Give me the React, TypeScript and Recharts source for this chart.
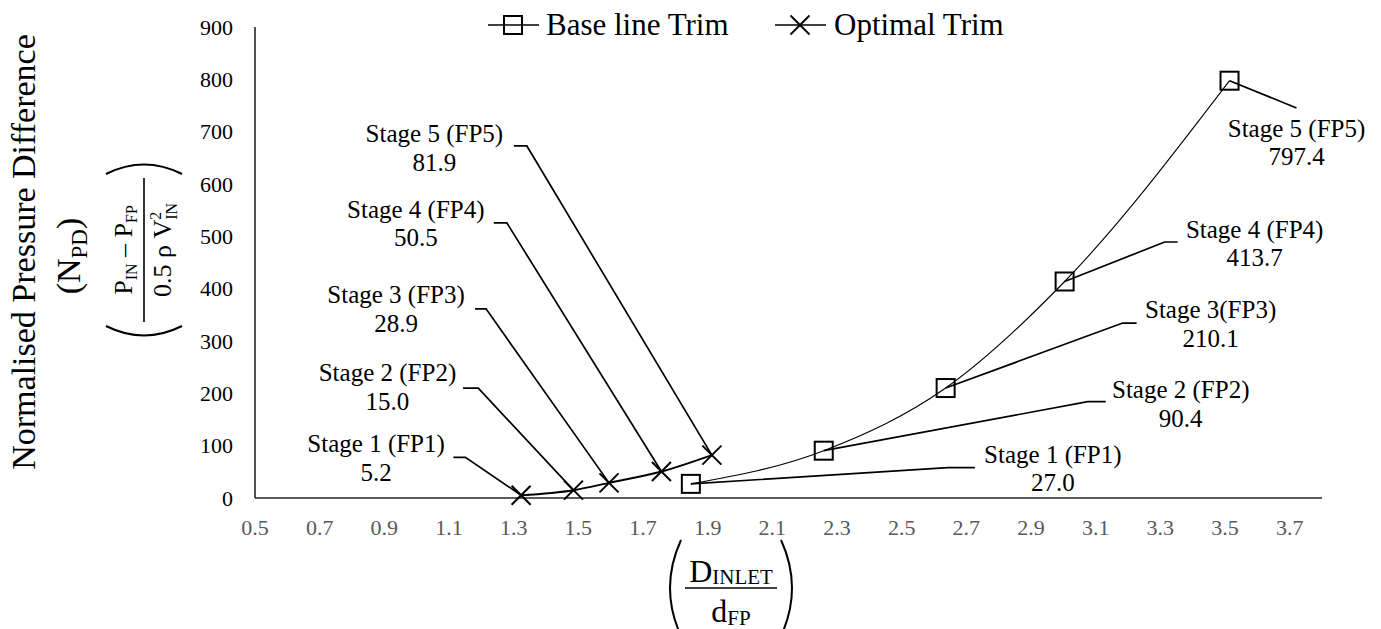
import React from 'react';
import { ComposedChart, Line, XAxis, YAxis } from 'recharts';

const FONT = '"Liberation Serif", "Times New Roman", serif';

// ---- data ----
const seriesNames = ['Base line Trim', 'Optimal Trim'];

const baseX = [1.848, 2.259, 2.636, 3.004, 3.514];
const baseY = [27.0, 90.4, 210.1, 413.7, 797.4];
const baseStages = ['Stage 1 (FP1)', 'Stage 2 (FP2)', 'Stage 3(FP3)', 'Stage 4 (FP4)', 'Stage 5 (FP5)'];

const optX = [1.323, 1.485, 1.595, 1.757, 1.913];
const optY = [5.2, 15.0, 28.9, 50.5, 81.9];
const optStages = ['Stage 1 (FP1)', 'Stage 2 (FP2)', 'Stage 3 (FP3)', 'Stage 4 (FP4)', 'Stage 5 (FP5)'];

const xTicks = [0.5, 0.7, 0.9, 1.1, 1.3, 1.5, 1.7, 1.9, 2.1, 2.3, 2.5, 2.7, 2.9, 3.1, 3.3, 3.5, 3.7];
const yTicks = [0, 100, 200, 300, 400, 500, 600, 700, 800, 900];

const baseData = baseX.map((x, i) => ({ x, y: baseY[i] }));
const optData = optX.map((x, i) => ({ x, y: optY[i] }));

// ---- callout layout (pixel offsets from the point: text centre/baseline, elbow near, elbow far) ----
type Lay = { t: [number, number]; n: [number, number]; f: [number, number] };
const baseLayout: Lay[] = [
  { t: [362, -21.3], n: [257, -16.3], f: [284, -16.3] },
  { t: [357, -52.2], n: [264, -49], f: [282, -49] },
  { t: [265, -70], n: [177, -65], f: [191, -65] },
  { t: [190, -43.5], n: [100, -39.5], f: [113, -39.5] },
  { t: [67, 56.3], n: [67, 27.3], f: [67, 27.3] },
];
const optLayout: Lay[] = [
  { t: [-145, -43], n: [-55.7, -38], f: [-67.7, -38] },
  { t: [-186, -108.8], n: [-95.2, -102], f: [-110.4, -102] },
  { t: [-213, -179.7], n: [-123, -174], f: [-134, -174] },
  { t: [-245.6, -253.7], n: [-154.6, -248.7], f: [-167.6, -248.7] },
  { t: [-277.5, -312.8], n: [-185, -309.2], f: [-198, -309.2] },
];

const Callout = ({ cx, cy, lay, stage, value }: any) => (
  <g>
    <polyline
      points={`${cx},${cy} ${cx + lay.n[0]},${cy + lay.n[1]} ${cx + lay.f[0]},${cy + lay.f[1]}`}
      fill="none"
      stroke="#000"
      strokeWidth={1.7}
    />
    <text x={cx + lay.t[0]} y={cy + lay.t[1]} textAnchor="middle" fontSize={25} fontFamily={FONT} fill="#000">
      {stage}
    </text>
    <text x={cx + lay.t[0]} y={cy + lay.t[1] + 28.5} textAnchor="middle" fontSize={25} fontFamily={FONT} fill="#000">
      {value.toFixed(1)}
    </text>
  </g>
);

const renderBaseDot = (p: any) => {
  const { cx, cy, index } = p;
  const s = 9;
  return (
    <g key={`b${index}`}>
      <Callout cx={cx} cy={cy} lay={baseLayout[index]} stage={baseStages[index]} value={baseY[index]} />
      <rect x={cx - s} y={cy - s} width={2 * s} height={2 * s} fill="none" stroke="#000" strokeWidth={2} />
    </g>
  );
};

const renderOptDot = (p: any) => {
  const { cx, cy, index } = p;
  const s = 9.5;
  return (
    <g key={`o${index}`}>
      <Callout cx={cx} cy={cy} lay={optLayout[index]} stage={optStages[index]} value={optY[index]} />
      <line x1={cx - s} y1={cy - s} x2={cx + s} y2={cy + s} stroke="#000" strokeWidth={2} />
      <line x1={cx - s} y1={cy + s} x2={cx + s} y2={cy - s} stroke="#000" strokeWidth={2} />
    </g>
  );
};

const Overlay = () => (
  <svg width={1381} height={629} style={{ position: 'absolute', left: 0, top: 0, pointerEvents: 'none' }}>
    {/* legend */}
    <g fontFamily={FONT} fontSize={31} fill="#000">
      <line x1={488} y1={25} x2={539} y2={25} stroke="#000" strokeWidth={1.3} />
      <rect x={504} y={16} width={18} height={18} fill="none" stroke="#000" strokeWidth={2} />
      <text x={546} y={35}>{seriesNames[0]}</text>
      <line x1={775} y1={25} x2={826} y2={25} stroke="#000" strokeWidth={1.6} />
      <line x1={790.5} y1={15.5} x2={809.5} y2={34.5} stroke="#000" strokeWidth={2} />
      <line x1={790.5} y1={34.5} x2={809.5} y2={15.5} stroke="#000" strokeWidth={2} />
      <text x={834} y={35}>{seriesNames[1]}</text>
    </g>
    {/* y-axis title */}
    <g fontFamily={FONT} fill="#000">
      <text transform="translate(35,252) rotate(-90)" textAnchor="middle" fontSize={34}>
        Normalised Pressure Difference
      </text>
      <text transform="translate(80,256) rotate(-90)" textAnchor="middle" fontSize={34}>
        (N<tspan fontSize={23} dy={7}>PD</tspan><tspan dy={-7}>)</tspan>
      </text>
      <g transform="translate(144,250) rotate(-90)">
        <text x={0} y={-12} textAnchor="middle" fontSize={26}>
          P<tspan fontSize={16} dy={5}>IN</tspan><tspan dy={-5}> – P</tspan><tspan fontSize={16} dy={5}>FP</tspan>
        </text>
        <line x1={-72} y1={0} x2={72} y2={0} stroke="#000" strokeWidth={1.6} />
        <text x={0} y={27} textAnchor="middle" fontSize={26}>
          0.5 ρ V<tspan fontSize={16} dy={-10}>2</tspan><tspan fontSize={16} dx={-8} dy={16}>IN</tspan>
        </text>
        <path d="M -76 -38 Q -95 0 -76 38" fill="none" stroke="#000" strokeWidth={2} />
        <path d="M 76 -38 Q 95 0 76 38" fill="none" stroke="#000" strokeWidth={2} />
      </g>
    </g>
    {/* x-axis title */}
    <g transform="translate(731,588)" fontFamily={FONT} fill="#000">
      <text x={0} y={-6} textAnchor="middle" fontSize={32}>
        D<tspan fontSize={21} dy={2}>INLET</tspan>
      </text>
      <line x1={-46} y1={0} x2={46} y2={0} stroke="#000" strokeWidth={1.6} />
      <text x={0} y={34} textAnchor="middle" fontSize={32}>
        d<tspan fontSize={21} dy={3}>FP</tspan>
      </text>
      <path d="M -50 -48 Q -72 0 -50 48" fill="none" stroke="#000" strokeWidth={2} />
      <path d="M 50 -48 Q 72 0 50 48" fill="none" stroke="#000" strokeWidth={2} />
    </g>
  </svg>
);

export default function App() {
  return (
    <div style={{ position: 'absolute', left: 0, top: 0, width: 1381, height: 629, background: '#fff' }}>
      <ComposedChart width={1381} height={629} margin={{ top: 27, right: 59, bottom: 0, left: 0 }}>
        <XAxis
          type="number"
          dataKey="x"
          domain={[0.5, 3.8]}
          ticks={xTicks}
          interval={0}
          height={131}
          tickLine={false}
          tickSize={0}
          tickMargin={21}
          tickFormatter={(v: number) => v.toFixed(1)}
          tick={{ fill: '#595959', fontSize: 22, fontFamily: FONT }}
          axisLine={{ stroke: '#262626', strokeWidth: 1.6 }}
        />
        <YAxis
          type="number"
          domain={[0, 900]}
          ticks={yTicks}
          interval={0}
          width={255}
          tickLine={false}
          tickSize={0}
          tickMargin={22}
          tick={{ fill: '#000', fontSize: 22, fontFamily: FONT }}
          axisLine={{ stroke: '#262626', strokeWidth: 1.6 }}
        />
        <Line
          data={baseData}
          dataKey="y"
          name={seriesNames[0]}
          type="monotone"
          stroke="#000"
          strokeWidth={1.1}
          dot={renderBaseDot}
          activeDot={false}
          isAnimationActive={false}
        />
        <Line
          data={optData}
          dataKey="y"
          name={seriesNames[1]}
          type="monotone"
          stroke="#000"
          strokeWidth={2}
          dot={renderOptDot}
          activeDot={false}
          isAnimationActive={false}
        />
      </ComposedChart>
      <Overlay />
    </div>
  );
}
